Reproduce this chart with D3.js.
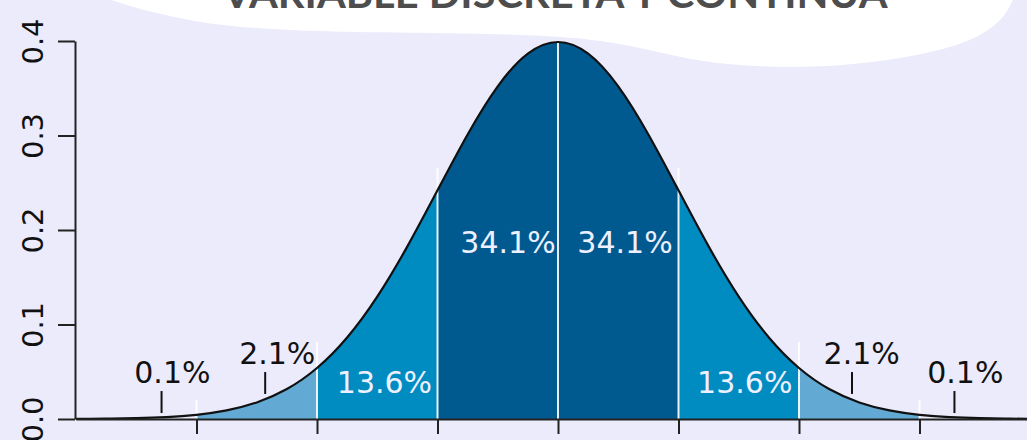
<!DOCTYPE html>
<html><head><meta charset="utf-8">
<script src="https://cdn.jsdelivr.net/npm/d3@7"></script>
<style>
html,body{margin:0;padding:0;background:#ebebfc;overflow:hidden}
svg{display:block}
</style></head>
<body>
<svg id="chart" width="1027" height="440"></svg>
<script>
// ---- data ----
const title = "VARIABLE DISCRETA Y CONTINUA";
const yTicks = [0.0, 0.1, 0.2, 0.3, 0.4];
const yTickLabels = ["0.0", "0.1", "0.2", "0.3", "0.4"];
const sigmaTicks = [-3, -2, -1, 0, 1, 2, 3];
// density of the curve read at every quarter sigma
const curveX = [-4,-3.75,-3.5,-3.25,-3,-2.75,-2.5,-2.25,-2,-1.75,-1.5,-1.25,-1,-0.75,-0.5,-0.25,0,
                0.25,0.5,0.75,1,1.25,1.5,1.75,2,2.25,2.5,2.75,3,3.25,3.5,3.75,4];
const curveY = [0.000134,0.000353,0.000873,0.002029,0.004432,0.009094,0.017528,0.031740,0.053991,0.086277,0.129518,0.182649,0.241971,0.301137,0.352065,0.386668,0.398942,
                0.386668,0.352065,0.301137,0.241971,0.182649,0.129518,0.086277,0.053991,0.031740,0.017528,0.009094,0.004432,0.002029,0.000873,0.000353,0.000134];
const bandFrom = [-3, -2, -1, 0, 1, 2];
const bandTo   = [-2, -1,  0, 1, 2, 3];
const bandKind = ["outer", "middle", "inner", "inner", "middle", "outer"];
// white divider tops (density units)
const dividerTop = [0.0201, 0.0815, 0.2656, 0.399, 0.2656, 0.0815, 0.0201];
// percentage labels
const pctText  = ["0.1%", "2.1%", "13.6%", "34.1%", "34.1%", "13.6%", "2.1%", "0.1%"];
const pctX     = [-3.20, -2.33, -1.44, -0.415, 0.556, 1.55, 2.52, 3.38];
const pctY     = [0.038, 0.058, 0.0275, 0.1757, 0.1757, 0.0275, 0.058, 0.038];
const pctInside= [false, false, true, true, true, true, false, false];
// small pointer marks under outside labels
const pointerX   = [-3.29, -2.43, 2.44, 3.29];
const pointerLo  = [0.0063, 0.0265, 0.0265, 0.0063];
const pointerHi  = [0.0296, 0.0497, 0.0497, 0.0296];
// decorative white banner outline (pixels)
const bannerPts = [[100,-5],[110,0],[150,12],[200,23],[260,29],[340,32],[450,33],[540,35],[600,40],[650,50],
                   [700,62],[760,67],[820,67],[880,62],[940,51],[980,37],[1005,18],[1015,-5]];

// ---- drawing ----
const svg = d3.select("#chart");
const W = 1027, H = 440;
const x = d3.scaleLinear().domain([-4, 4]).range([76, 1040]);
const y = d3.scaleLinear().domain([0, 0.4]).range([419, 41]);
const fillColor = d3.scaleOrdinal().domain(["outer","middle","inner"]).range(["#62aad3","#008bc1","#015a8f"]);

svg.append("rect").attr("width", W).attr("height", H).attr("fill", "#ebebfc");

// banner
svg.append("path")
  .attr("d", d3.line().curve(d3.curveBasis)(bannerPts) + "L1040,-10L90,-10Z")
  .attr("fill", "#ffffff");
svg.append("text")
  .attr("x", 555).attr("y", 8)
  .attr("text-anchor", "middle")
  .attr("font-family", "Lato, 'Open Sans', sans-serif")
  .attr("font-weight", 700)
  .attr("font-size", 40)
  .attr("fill", "#4d4d4d")
  .attr("textLength", 665)
  .attr("lengthAdjust", "spacingAndGlyphs")
  .text(title);

const pts = curveX.map((v, i) => [v, curveY[i]]);
const area = d3.area().curve(d3.curveNatural).x(d => x(d[0])).y0(y(0)).y1(d => y(d[1]));
const line = d3.line().curve(d3.curveNatural).x(d => x(d[0])).y(d => y(d[1]));

const defs = svg.append("defs");
bandFrom.forEach((a, i) => {
  defs.append("clipPath").attr("id", "band" + i)
    .append("rect")
    .attr("x", x(a)).attr("y", 0)
    .attr("width", x(bandTo[i]) - x(a)).attr("height", H);
  svg.append("path")
    .attr("d", area(pts))
    .attr("clip-path", `url(#band${i})`)
    .attr("fill", fillColor(bandKind[i]));
});

// white dividers
svg.selectAll(".div").data(sigmaTicks).join("line")
  .attr("x1", d => x(d)).attr("x2", d => x(d))
  .attr("y1", y(0)).attr("y2", (d, i) => y(dividerTop[i]))
  .attr("stroke", "#ffffff").attr("stroke-width", 2).attr("opacity", 0.9);

// curve
svg.append("path").attr("d", line(pts))
  .attr("fill", "none").attr("stroke", "#111").attr("stroke-width", 2.2);

// axes
const yAxis = svg.append("g").attr("transform", `translate(${x(-4) - 1},0)`)
  .call(d3.axisLeft(y).tickValues(yTicks).tickFormat((d, i) => yTickLabels[i]).tickSize(17).tickSizeOuter(0));
yAxis.select(".domain").attr("stroke", "#222").attr("stroke-width", 2);
yAxis.selectAll(".tick line").attr("stroke", "#222").attr("stroke-width", 2);
yAxis.selectAll(".tick text")
  .attr("font-family", "'DejaVu Sans', sans-serif").attr("font-size", 29).attr("fill", "#111")
  .attr("transform", "rotate(-90)").attr("x", 0).attr("y", -32).attr("dy", 0)
  .attr("text-anchor", "middle");

const xAxis = svg.append("g").attr("transform", `translate(0,${y(0)})`)
  .call(d3.axisBottom(x).tickValues(sigmaTicks).tickFormat("").tickSize(15).tickSizeOuter(0));
xAxis.select(".domain").attr("stroke", "#222").attr("stroke-width", 2);
xAxis.selectAll(".tick line").attr("stroke", "#222").attr("stroke-width", 2);

// pointer marks
svg.selectAll(".ptr").data(pointerX).join("line")
  .attr("x1", d => x(d)).attr("x2", d => x(d))
  .attr("y1", (d, i) => y(pointerLo[i])).attr("y2", (d, i) => y(pointerHi[i]))
  .attr("stroke", "#111").attr("stroke-width", 2);

// labels
svg.selectAll(".pct").data(pctText).join("text")
  .attr("x", (d, i) => x(pctX[i])).attr("y", (d, i) => y(pctY[i]))
  .attr("text-anchor", "middle")
  .attr("font-family", "'DejaVu Sans', sans-serif").attr("font-size", 30)
  .attr("fill", (d, i) => pctInside[i] ? "#eef0ff" : "#111")
  .text(d => d);
</script>
</body></html>
